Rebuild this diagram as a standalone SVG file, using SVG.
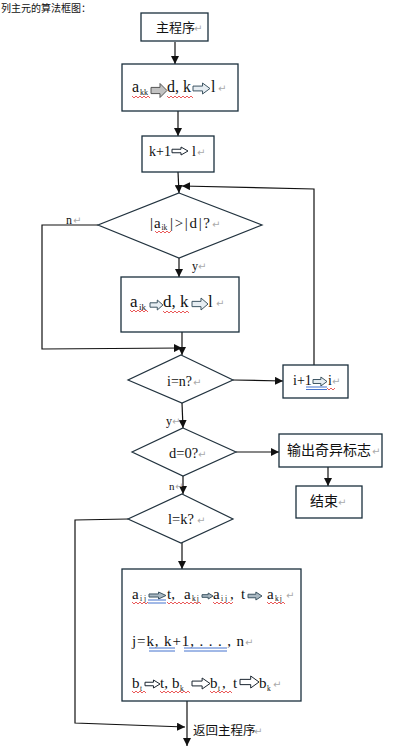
<svg xmlns="http://www.w3.org/2000/svg" xmlns:xlink="http://www.w3.org/1999/xlink" width="408" height="752" viewBox="0 0 408 752">
<style>
.box{fill:#fff;stroke:#1a2f3c;stroke-width:1.3}
.dia{fill:#fff;stroke:#22333f;stroke-width:1.2}
.ln{fill:none;stroke:#111;stroke-width:1.2}
.t{font-family:"Liberation Serif",serif;fill:#111}
.cj{font-family:"Noto Sans CJK SC",sans-serif;fill:#111}
.pm{font-family:"DejaVu Sans",sans-serif;font-size:10px;fill:#aaa}
.sq{fill:none;stroke:#e53030;stroke-width:0.8}
.du{fill:none;stroke:#2f62c8;stroke-width:0.9}
.bg{fill:#c2c2c2;stroke:#555}
.bl{fill:#e6edf2;stroke:#3d5563}
.bd{fill:#a9b8c2;stroke:#3d5563}
.bw{fill:#fff;stroke:#1a2530}
</style>
<defs>
<marker id="ah" markerUnits="userSpaceOnUse" markerWidth="8" markerHeight="8" viewBox="0 0 8 8" refX="8" refY="4" orient="auto">
<path d="M0,0 L8,4 L0,8 Z" fill="#111"/>
</marker>
<path id="ba" d="M0,-2.2 H9 V-5 L16,0 L9,5 V2.2 H0 Z" vector-effect="non-scaling-stroke" stroke-width="1"/>
</defs>

<text class="cj" x="1" y="11.5" font-size="10">列主元的算法框图：</text>

<g id="connectors">
<line class="ln" x1="175" y1="42" x2="175" y2="64" marker-end="url(#ah)"/>
<line class="ln" x1="178" y1="111" x2="178" y2="136" marker-end="url(#ah)"/>
<line class="ln" x1="178" y1="172" x2="179" y2="193" marker-end="url(#ah)"/>
<polyline class="ln" points="314,365 314,189 182,186" marker-end="url(#ah)"/>
<polyline class="ln" points="98,225 42,225 42,349 182,348" marker-end="url(#ah)"/>
<line class="ln" x1="179" y1="258" x2="179" y2="277" marker-end="url(#ah)"/>
<line class="ln" x1="182" y1="332" x2="182" y2="355" marker-end="url(#ah)"/>
<line class="ln" x1="233" y1="380" x2="283" y2="381" marker-end="url(#ah)"/>
<line class="ln" x1="182" y1="403" x2="183" y2="428" marker-end="url(#ah)"/>
<line class="ln" x1="236" y1="452" x2="279" y2="452" marker-end="url(#ah)"/>
<line class="ln" x1="328" y1="467" x2="328" y2="486" marker-end="url(#ah)"/>
<line class="ln" x1="183" y1="476" x2="183" y2="494" marker-end="url(#ah)"/>
<polyline class="ln" points="128,519 75,520 75,723 185,727" marker-end="url(#ah)"/>
<line class="ln" x1="182" y1="543" x2="182" y2="569" marker-end="url(#ah)"/>
<line class="ln" x1="187" y1="701" x2="187" y2="746" marker-end="url(#ah)"/>
<text class="t" x="66" y="224" font-size="12">n</text><text class="pm" x="73" y="224">↵</text>
<text class="t" x="192" y="270" font-size="12">y</text><text class="pm" x="198" y="270">↵</text>
<text class="t" x="166" y="425" font-size="12">y</text><text class="pm" x="172" y="425">↵</text>
<text class="t" x="169" y="490" font-size="11">n</text><text class="pm" x="175" y="490">↵</text>
</g>

<g id="start">
<rect class="box" x="141" y="13" width="67" height="28"/>
<text class="cj" x="156" y="32" font-size="13">主程序</text><text class="pm" x="194" y="32">↵</text>
</g>

<g id="init">
<rect class="box" x="122" y="64" width="116" height="47"/>
<text class="t" x="132" y="92" font-size="16">a</text>
<text class="t" x="140" y="95" font-size="8">kk</text>
<use xlink:href="#ba" class="bg" transform="translate(151,90.5) scale(1,1.4)"/>
<text class="t" x="167" y="92" font-size="16">d, k</text>
<use xlink:href="#ba" class="bl" transform="translate(193,88.5) scale(1.06,1.1)"/>
<text class="t" x="211" y="92" font-size="16">l</text><text class="pm" x="218" y="92">↵</text>
<path class="sq" d="M132,96 l2,2 l2,-2 l2,2 l2,-2 l2,2 l2,-2 l2,2 l2,-2 l2,2"/>
<path class="sq" d="M167,96 l2,2 l2,-2 l2,2 l2,-2 l2,2 l2,-2 l2,2 l2,-2 l2,2 l2,-2 l2,2 l2,-2 l2,2"/>
</g>

<g id="kplus">
<rect class="box" x="142" y="136" width="72" height="36"/>
<text class="t" x="149" y="156" font-size="14">k+1</text>
<use xlink:href="#ba" class="bw" transform="translate(172,151) scale(1,0.8)"/>
<text class="t" x="192" y="156" font-size="14">l</text><text class="pm" x="197" y="156">↵</text>
</g>

<g id="cmp">
<polygon class="dia" points="179,193 262,225 179,258 98,225"/>
<text class="t" x="150" y="228" font-size="15">|</text>
<text class="t" x="154" y="228" font-size="15">a</text>
<text class="t" x="161.5" y="230" font-size="7.5">ik</text>
<text class="t" x="170" y="228" font-size="15" textLength="40" lengthAdjust="spacing">|&gt;|d|?</text>
<text class="pm" x="212" y="228">↵</text>
<path class="sq" d="M155,231 l2,2 l2,-2 l2,2 l2,-2 l2,2 l2,-2 l2,2 l2,-2"/>
</g>

<g id="update">
<rect class="box" x="121" y="277" width="118" height="55"/>
<text class="t" x="130" y="307" font-size="17">a</text>
<text class="t" x="139" y="310" font-size="9">ik</text>
<use xlink:href="#ba" class="bl" transform="translate(150,305) scale(0.81,1)"/>
<text class="t" x="163" y="307" font-size="17">d, k</text>
<use xlink:href="#ba" class="bl" transform="translate(192,304) scale(1,1.2)"/>
<text class="t" x="208" y="307" font-size="17">l</text><text class="pm" x="216" y="307">↵</text>
<path class="sq" d="M130,310 l2,2 l2,-2 l2,2 l2,-2 l2,2 l2,-2 l2,2 l2,-2 l2,2"/>
<path class="sq" d="M163,311 l2,2 l2,-2 l2,2 l2,-2 l2,2 l2,-2 l2,2 l2,-2 l2,2 l2,-2 l2,2 l2,-2 l2,2"/>
</g>

<g id="ieqn">
<polygon class="dia" points="181,355 233,380 182,403 128,380"/>
<text class="t" x="167" y="386" font-size="14">i=n?</text><text class="pm" x="193" y="386">↵</text>
</g>

<g id="iplus">
<rect class="box" x="283" y="365" width="65" height="33"/>
<text class="t" x="293" y="385" font-size="14">i+1</text>
<use xlink:href="#ba" class="bl" transform="translate(313,381.5) scale(0.875,0.9)"/>
<text class="t" x="328" y="385" font-size="14">i</text><text class="pm" x="332" y="385">↵</text>
<path class="du" d="M306,387 H327 M306,389.5 H327"/>
<path class="sq" d="M327,388 l2,2 l2,-2 l2,2 l2,-2"/>
</g>

<g id="deq0">
<polygon class="dia" points="183,428 236,452 183,476 132,452"/>
<text class="t" x="169" y="458" font-size="14.5">d=0?</text><text class="pm" x="198" y="458">↵</text>
</g>

<g id="singular">
<rect class="box" x="279" y="434" width="103" height="33"/>
<text class="cj" x="287" y="455" font-size="14">输出奇异标志</text><text class="pm" x="372" y="455">↵</text>
</g>

<g id="end">
<rect class="box" x="296" y="486" width="66" height="32"/>
<text class="cj" x="310" y="506" font-size="14">结束</text><text class="pm" x="338" y="506">↵</text>
</g>

<g id="leqk">
<polygon class="dia" points="182,494 233,519 181,543 128,519"/>
<text class="t" x="168" y="524" font-size="14.5">l=k?</text><text class="pm" x="197" y="524">↵</text>
</g>

<g id="swap">
<rect class="box" x="122" y="569" width="179" height="132"/>
<text class="t" x="132" y="599" font-size="15">a</text>
<text class="t" x="140" y="601" font-size="7.5" letter-spacing="2">ij</text>
<use xlink:href="#ba" class="bd" transform="translate(149,595.5) scale(1.06,0.7)"/>
<text class="t" x="167" y="599" font-size="15">t,</text>
<text class="t" x="184" y="599" font-size="15">a</text>
<text class="t" x="192" y="601" font-size="7.5" letter-spacing="1">kj</text>
<use xlink:href="#ba" class="bd" transform="translate(202,596) scale(0.69,0.6)"/>
<text class="t" x="213" y="599" font-size="15">a</text>
<text class="t" x="221" y="601" font-size="7.5" letter-spacing="2">ij</text>
<text class="t" x="230" y="599" font-size="15">,</text>
<text class="t" x="241" y="599" font-size="15">t</text>
<use xlink:href="#ba" class="bd" transform="translate(248,596) scale(0.875,0.8)"/>
<text class="t" x="267" y="599" font-size="15">a</text>
<text class="t" x="275" y="601" font-size="7.5" letter-spacing="1">kj</text>
<text class="pm" x="286" y="599">↵</text>
<path class="du" d="M148,600 H166 M148,603 H166"/>
<path class="sq" d="M132,602 l2,2 l2,-2 l2,2 l2,-2 l2,2 l2,-2 l2,2 l2,-2"/>
<path class="sq" d="M167,602 l2,2 l2,-2 l2,2 l2,-2 l2,2 l2,-2 l2,2 l2,-2 l2,2 l2,-2 l2,2 l2,-2 l2,2 l2,-2 l2,2 l2,-2 l2,2"/>
<path class="sq" d="M213,602 l2,2 l2,-2 l2,2 l2,-2 l2,2 l2,-2 l2,2 l2,-2 l2,2 l2,-2"/>
<path class="sq" d="M267,602 l2,2 l2,-2 l2,2 l2,-2 l2,2 l2,-2 l2,2 l2,-2 l2,2"/>

<text class="t" x="132" y="646" font-size="15" textLength="112" lengthAdjust="spacing">j=k, k+1, . . . , n</text>
<text class="pm" x="245" y="646">↵</text>
<path class="du" d="M149,648 H175 M149,651 H175 M184,648 H227 M184,651 H227"/>

<text class="t" x="132" y="688" font-size="15">b</text>
<text class="t" x="140" y="691" font-size="7.5">t</text>
<use xlink:href="#ba" class="bw" transform="translate(145,684) scale(0.94,0.8)"/>
<text class="t" x="160" y="688" font-size="15">t,</text>
<text class="t" x="172" y="688" font-size="15">b</text>
<text class="t" x="180" y="691" font-size="7.5">k</text>
<use xlink:href="#ba" class="bw" transform="translate(192,683.5) scale(1.125,1.1)"/>
<text class="t" x="210" y="688" font-size="15">b</text>
<text class="t" x="218" y="691" font-size="7.5">t</text>
<text class="t" x="222" y="688" font-size="15">,</text>
<text class="t" x="233" y="688" font-size="15">t</text>
<use xlink:href="#ba" class="bw" stroke-width="1.8" transform="translate(240,682) scale(1.19,1.2)"/>
<text class="t" x="259" y="688" font-size="15">b</text>
<text class="t" x="267" y="691" font-size="7.5">k</text>
<text class="pm" x="273" y="688">↵</text>
<path class="sq" d="M132,691 l2,2 l2,-2 l2,2 l2,-2 l2,2 l2,-2 l2,2"/>
<path class="sq" d="M160,691 l2,2 l2,-2 l2,2 l2,-2 l2,2 l2,-2 l2,2 l2,-2 l2,2 l2,-2 l2,2 l2,-2 l2,2 l2,-2 l2,2"/>
<path class="sq" d="M210,691 l2,2 l2,-2 l2,2 l2,-2 l2,2 l2,-2 l2,2 l2,-2 l2,2 l2,-2 l2,2"/>
</g>

<g id="return">
<text class="cj" x="193" y="735" font-size="12.5">返回主程序</text><text class="pm" x="254" y="735">↵</text>
</g>
</svg>
